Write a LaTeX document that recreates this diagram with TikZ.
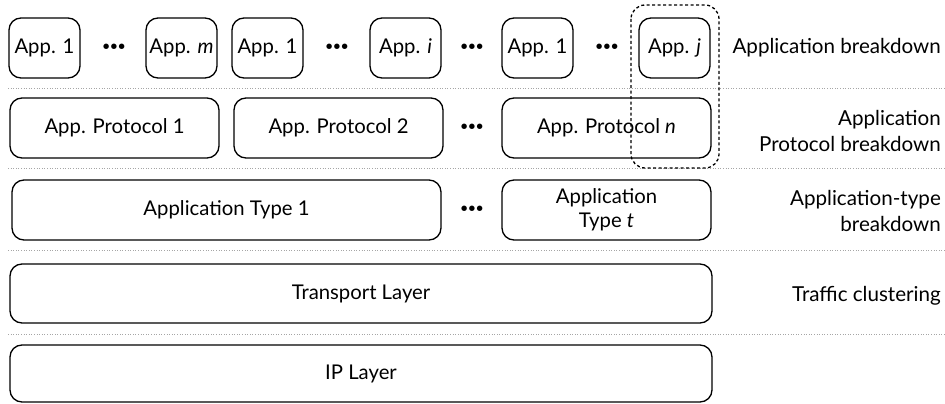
\documentclass[tikz,border=0pt]{standalone}
\usepackage{fontspec}
\setmainfont{Lato}
\newcommand{\threedots}{\fontsize{12.5}{12.5}\selectfont\bfseries •\kern0.6pt•\kern0.6pt•}
\begin{document}
\begin{tikzpicture}[x=1pt,y=-1pt,
  box/.style={draw=black, line width=1.3pt, rounded corners=12pt, inner sep=0pt, align=center, font=\fontsize{20.3}{24}\selectfont},
  dots/.style={inner sep=0pt},
  lbl/.style={anchor=east, inner sep=0pt, align=right, font=\fontsize{20.6}{26}\selectfont},
  sep/.style={draw=gray!70, line width=0.6pt, dotted},
  groupbox/.style={draw=black, line width=1.3pt, dash pattern=on 3pt off 2.5pt, rounded corners=14pt}]
\useasboundingbox (0,0) rectangle (945,404);

% layer separators
\foreach \y in {88,168,250,334}
  \draw[sep] (8,\y) -- (945,\y);

% application layer
\node[box, minimum width=71pt, minimum height=60pt] (a1) at (44.5,48) {App. 1};
\node[dots] (d1) at (114,47) {\threedots};
\node[box, minimum width=71pt, minimum height=60pt] (am) at (181.5,48) {App. \textit{m}};
\node[box, minimum width=71pt, minimum height=60pt] (b1) at (267.5,48) {App. 1};
\node[dots] (d2) at (337,47) {\threedots};
\node[box, minimum width=71pt, minimum height=60pt] (bi) at (405.5,48) {App. \textit{i}};
\node[dots] (d3) at (472,47) {\threedots};
\node[box, minimum width=71pt, minimum height=60pt] (c1) at (537.5,48) {App. 1};
\node[dots] (d4) at (607,47) {\threedots};
\node[box, minimum width=71pt, minimum height=60pt] (cj) at (674.5,48) {App. \textit{j}};

% application protocol layer
\node[box, minimum width=209pt, minimum height=60pt] (p1) at (114.5,128) {App. Protocol 1};
\node[box, minimum width=209pt, minimum height=60pt] (p2) at (338.5,128) {App. Protocol 2};
\node[dots] (d5) at (472,127) {\threedots};
\node[box, minimum width=209pt, minimum height=60pt] (pn) at (606.5,128) {App. Protocol \textit{n}};

% application type layer
\node[box, minimum width=429pt, minimum height=60pt] (t1) at (226.5,210) {Application Type 1};
\node[dots] (d6) at (472,209) {\threedots};
\node[box, minimum width=209pt, minimum height=60pt] (tt) at (606.5,210) {Application\\Type \textit{t}};

% transport and IP layers
\node[box, minimum width=702pt, minimum height=59pt] (tr) at (361,293.5) {Transport Layer};
\node[box, minimum width=702pt, minimum height=57pt] (ip) at (361,373.5) {IP Layer};

% grouping of one application down through its protocol
\draw[groupbox] (631,5) rectangle (719,168);

% breakdown labels
\node[lbl] (l1) at (941,48) {Application breakdown};
\node[lbl] (l2) at (941,131) {Application\\Protocol breakdown};
\node[lbl] (l3) at (941,211) {Application-type\\breakdown};
\node[lbl] (l4) at (941,296) {Traffic clustering};
\end{tikzpicture}
\end{document}
